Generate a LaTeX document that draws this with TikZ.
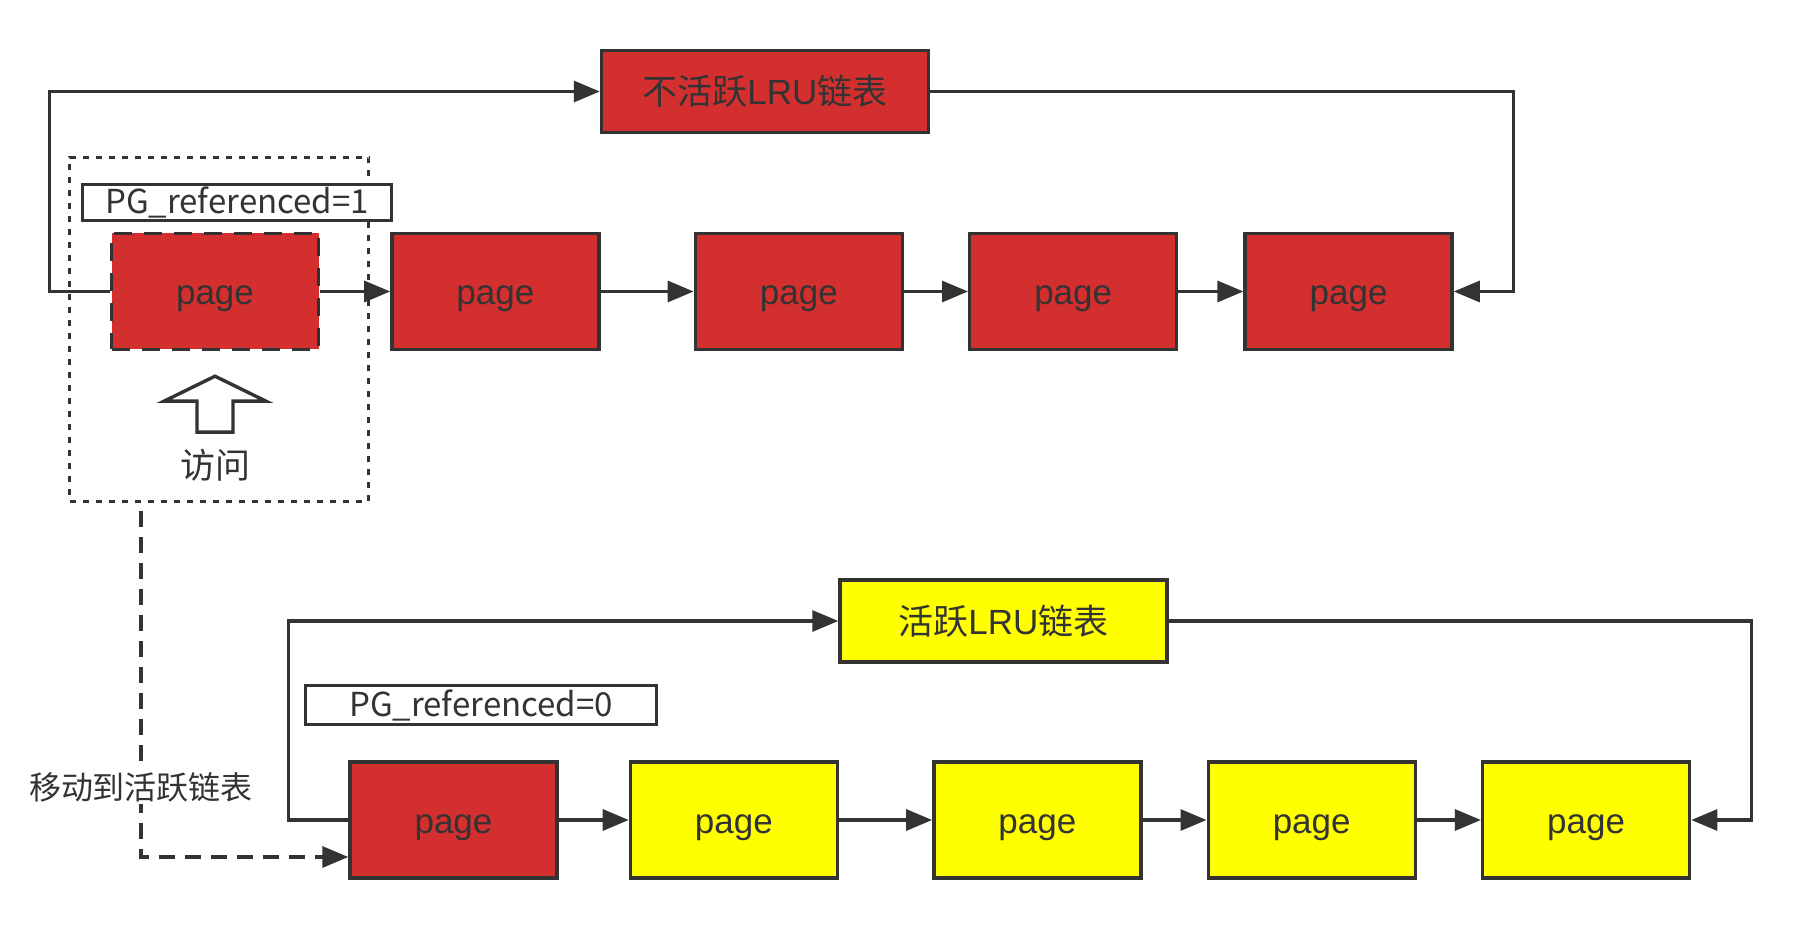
\documentclass[tikz,border=0pt]{standalone}
\usepackage{fontspec}
\setmainfont{Liberation Sans}
\newfontfamily\cjk{Noto Sans CJK SC}
\usepackage{xcolor}
\usepackage{tikz}
\usetikzlibrary{arrows.meta,positioning,calc}

\definecolor{ink}{HTML}{333333}
\definecolor{pagered}{HTML}{D32F2F}
\definecolor{pageyellow}{HTML}{FFFF00}

\tikzset{
  pagebox/.style={draw=ink,line width=1.7pt,minimum width=103.5pt,minimum height=58pt,
    text=ink,text height=13pt,text depth=0pt,font=\fontsize{17.5}{20}\selectfont},
  listhead/.style={draw=ink,line width=1.7pt,minimum width=163.5pt,minimum height=41pt,
    text=ink,font=\fontsize{17.5}{20}\selectfont},
  flagbox/.style={draw=ink,line width=1.7pt,fill=white,text=ink,inner sep=0pt,
    font=\cjk\fontsize{16.5}{18}\selectfont},
  link/.style={draw=ink,line width=1.6pt,-{Triangle[length=13pt,width=10.5pt]}},
}

\begin{document}
\begin{tikzpicture}[x=0.5pt,y=-0.5pt]
  \useasboundingbox (0,0) rectangle (1801,930);
  % inactive list
  \node[listhead,fill=pagered] (inact) at (765,91.5) {{\cjk 不活跃}LRU{\cjk 链表}};
  \node[draw=ink,line width=1.8pt,dash pattern=on 3pt off 3.5pt,minimum width=149.5pt,minimum height=172pt] (focus)
    at (219,329.5) {};
  \node[flagbox,minimum width=154.5pt,minimum height=18pt] (flag1) at (237,202.5) {PG\_referenced=1};
  \node[pagebox,fill=pagered,dash pattern=on 9pt off 6pt] (p0) at (215,291.5) {page};
  \node[pagebox,fill=pagered,right=35pt of p0] (p1) {page};
  \node[pagebox,fill=pagered,right=46.5pt of p1] (p2) {page};
  \node[pagebox,fill=pagered,right=32pt of p2] (p3) {page};
  \node[pagebox,fill=pagered,right=32.5pt of p3] (p4) {page};
  \draw[ink,line width=1.7pt,fill=white] ($(p0.south)+(0,25)$) -- ++(51,25) -- ++(-33,0) -- ++(0,31)
    -- ++(-36,0) -- ++(0,-31) -- ++(-33,0) -- cycle;
  \node[text=ink,font=\cjk\fontsize{17.5}{20}\selectfont] (visit) at (215,465) {访问};

  % active list
  \node[listhead,fill=pageyellow] (act) at (1003.5,621) {{\cjk 活跃}LRU{\cjk 链表}};
  \node[flagbox,minimum width=175.5pt,minimum height=19.5pt] (flag0) at (481,705) {PG\_referenced=0};
  \node[pagebox,fill=pagered] (q0) at (453.5,820) {page};
  \node[pagebox,fill=pageyellow,right=35pt of q0] (q1) {page};
  \node[pagebox,fill=pageyellow,right=46.5pt of q1] (q2) {page};
  \node[pagebox,fill=pageyellow,right=32pt of q2] (q3) {page};
  \node[pagebox,fill=pageyellow,right=32pt of q3] (q4) {page};

  % links
  \foreach \a/\b in {p0/p1,p1/p2,p2/p3,p3/p4,q0/q1,q1/q2,q2/q3,q3/q4}
    \draw[link] (\a.east) -- (\b.west);
  \draw[link] (p0.west) -- ++(-60,0) |- (inact.west);
  \draw[link] (inact.east) -| ($(p4.east)+(60,0)$) -- (p4.east);
  \draw[link] (q0.west) -- ++(-60,0) |- (act.west);
  \draw[link] (act.east) -| ($(q4.east)+(60,0)$) -- (q4.east);

  % move to active list
  \coordinate (mv) at (141,787);
  \draw[link,dash pattern=on 8pt off 5pt,shorten <=4pt] (focus.south -| mv) |- ($(q0.west)+(0,37)$);
  \node[fill=white,inner sep=1pt,text=ink,font=\cjk\fontsize{16}{18}\selectfont] (move) at (mv) {移动到活跃链表};
\end{tikzpicture}
\end{document}
